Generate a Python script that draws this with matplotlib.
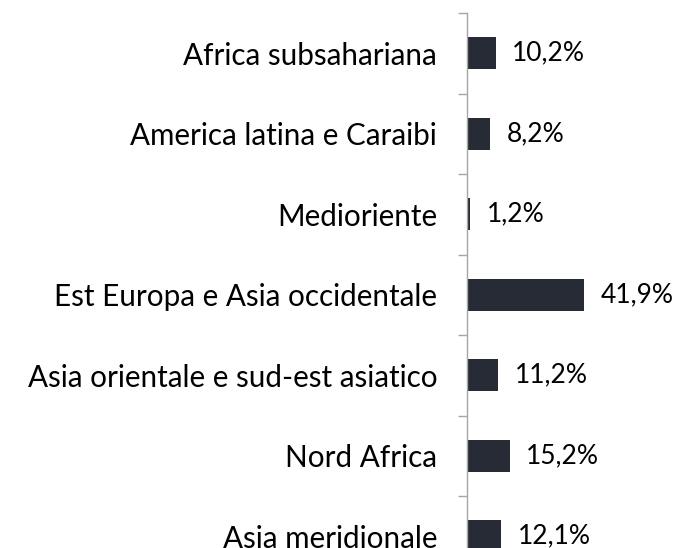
import numpy as np
import matplotlib
matplotlib.use("Agg")
import matplotlib.pyplot as plt

regioni = [
    "Africa subsahariana",
    "America latina e Caraibi",
    "Medioriente",
    "Est Europa e Asia occidentale",
    "Asia orientale e sud-est asiatico",
    "Nord Africa",
    "Asia meridionale",
]
quote = [10.2, 8.2, 1.2, 41.9, 11.2, 15.2, 12.1]
etichette = ["10,2%", "8,2%", "1,2%", "41,9%", "11,2%", "15,2%", "12,1%"]

plt.rcParams["font.family"] = ["Lato", "DejaVu Sans"]

fig = plt.figure(figsize=(6.77, 5.48), dpi=100)
W, H = 677, 548
x0, top, bot = 467, 13, 576.5
ax = fig.add_axes([x0 / W, 1 - bot / H, (W - x0) / W, (bot - top) / H])

y = np.arange(len(regioni))
ax.barh(y, quote, height=0.4, color="#262b36")

for yi, v, t in zip(y, quote, etichette):
    ax.annotate(t, (v, yi), xytext=(12, 0), textcoords="offset points",
                va="center", ha="left", fontsize=19, color="black")

ax.set_xlim(0, 75)
ax.set_ylim(len(regioni) - 0.5, -0.5)

ax.set_yticks(y)
ax.set_yticklabels(regioni, fontsize=21.3)
ax.tick_params(axis="y", which="major", length=0, pad=21.5)
ax.set_yticks(np.arange(len(regioni) + 1) - 0.5, minor=True)
ax.tick_params(axis="y", which="minor", length=6.5, width=1, color="#a6a6a6")

ax.xaxis.set_visible(False)
for s in ["top", "right", "bottom"]:
    ax.spines[s].set_visible(False)
ax.spines["left"].set_color("#a6a6a6")
ax.spines["left"].set_linewidth(1)

fig.savefig("out.png", dpi=100)
